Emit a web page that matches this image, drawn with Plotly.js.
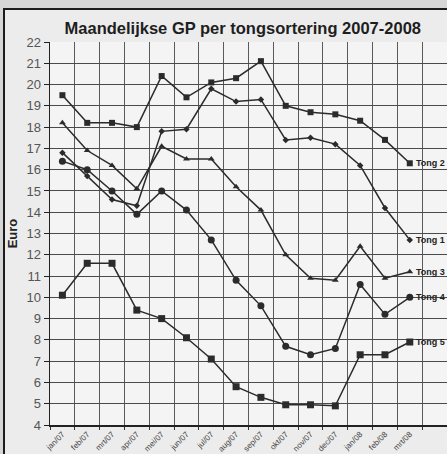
<!DOCTYPE html>
<html>
<head>
<meta charset="utf-8">
<script src="https://cdn.plot.ly/plotly-3.0.1.min.js"></script>
<style>
  html, body { margin:0; padding:0; background:#d6d6d6; overflow:hidden; width:447px; height:454px; }
  #frame { position:absolute; left:3px; top:8px; width:442px; height:444px; border:2px solid #1c1c1c; background:#ececec; }
  #chart { width:442px; height:444px; }
</style>
</head>
<body>
<div id="frame"><div id="chart"></div></div>
<script>
const months = ['jan/07','feb/07','mrt/07','apr/07','mei/07','jun/07','jul/07','aug/07','sep/07','okt/07','nov/07','dec/07','jan/08','feb/08','mrt/08'];
const seriesNames = ['Tong 1','Tong 2','Tong 3','Tong 4','Tong 5'];
const tong1 = [16.8,15.7,14.6,14.3,17.8,17.9,19.8,19.2,19.3,17.4,17.5,17.2,16.2,14.2,12.7];
const tong2 = [19.5,18.2,18.2,18.0,20.4,19.4,20.1,20.3,21.1,19.0,18.7,18.6,18.3,17.4,16.3];
const tong3 = [18.2,16.9,16.2,15.1,17.1,16.5,16.5,15.2,14.1,12.0,10.9,10.8,12.4,10.9,11.2];
const tong4 = [16.4,16.0,15.0,13.9,15.0,14.1,12.7,10.8,9.6,7.7,7.3,7.6,10.6,9.2,10.0];
const tong5 = [10.1,11.6,11.6,9.4,9.0,8.1,7.1,5.8,5.3,4.95,4.95,4.9,7.3,7.3,7.9];
const titleText = 'Maandelijkse GP per tongsortering 2007-2008';
const yTitle = 'Euro';

const values = [tong1, tong2, tong3, tong4, tong5];
const markerSymbols = ['diamond','square','triangle-up','circle','square'];
const markerSizes = [5,6,6,7,7];
const xIdx = months.map((m,i)=>i);
const lineColor = '#2b2b2b';
const font = 'Liberation Sans, Arial, sans-serif';

const traces = values.map((v,k)=>({
  x: xIdx, y: v, name: seriesNames[k], type:'scatter', mode:'lines+markers',
  line:{color:lineColor, width:1.5},
  marker:{symbol:markerSymbols[k], size:markerSizes[k], color:lineColor},
  showlegend:false, hoverinfo:'skip'
}));

const annotations = values.map((v,k)=>({
  x: xIdx[xIdx.length-1], y: v[v.length-1], xref:'x', yref:'y',
  text: seriesNames[k], showarrow:false, xanchor:'left', yanchor:'middle', xshift:4,
  font:{family:font, size:9, color:'#222', weight:'bold'}
}));

const layout = {
  width:442, height:444,
  margin:{l:45, r:0, t:32, b:29},
  paper_bgcolor:'#ececec', plot_bgcolor:'#f4f4f4',
  font:{family:font, color:'#444'},
  title:{text:titleText, x:0.538, xref:'container', xanchor:'center', y:0.958, yref:'container', yanchor:'middle',
         font:{family:font, size:16.5, color:'#1e1e1e', weight:'bold'}},
  xaxis:{
    range:[-0.5, 15.5], tickmode:'array', tickvals:xIdx, ticktext:months, tickangle:-45,
    tickfont:{family:font, size:8, color:'#444'}, ticks:'', showgrid:false, zeroline:false,
    showline:true, linecolor:'#222', linewidth:1.5, automargin:false,
    minor:{tick0:0.5, dtick:1, showgrid:true, gridcolor:'#5a5a5a', gridwidth:1, ticks:'outside', ticklen:3, tickcolor:'#333'}
  },
  yaxis:{
    range:[4,22], dtick:1, tick0:4, showgrid:true, gridcolor:'#4a4a4a', gridwidth:1,
    ticks:'outside', ticklen:5, tickcolor:'#222', tickfont:{family:font, size:13, color:'#555'},
    showline:true, linecolor:'#222', linewidth:1.5, zeroline:false, automargin:false,
    title:{text:yTitle, standoff:9, font:{family:font, size:13, color:'#222', weight:'bold'}}
  },
  annotations: annotations
};

Plotly.newPlot('chart', traces, layout, {displayModeBar:false, staticPlot:true});
</script>
</body>
</html>
